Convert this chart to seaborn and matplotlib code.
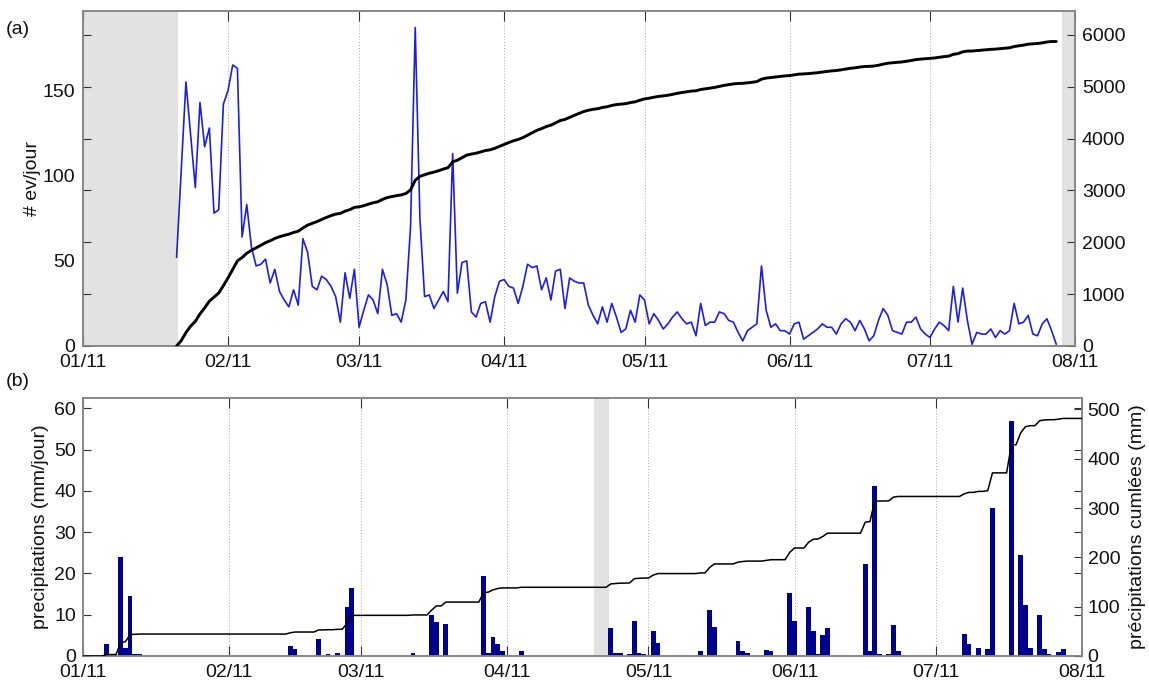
import numpy as np
import pandas as pd
import matplotlib
matplotlib.use("Agg")
import matplotlib.pyplot as plt
import seaborn as sns

# ---------------------------------------------------------------- data
START = pd.Timestamp("2011-01-01")
END = pd.Timestamp("2011-08-01")

# (a) daily number of events, one value per day from the first recording day
ev_first_day = "2011-01-21"
ev_per_day = [
    52, 104, 155, 124, 93, 143, 117, 128, 78, 80, 142, 150, 165, 163, 64, 83,
    58, 47, 48, 51, 37, 45, 32, 27, 23, 33, 24, 63, 55, 35, 33, 41, 39, 35, 29, 14,
    43, 28, 45, 11, 21, 30, 27, 19, 45, 36, 18, 19, 14, 27, 70, 187, 75, 29, 30, 22,
    27, 32, 26, 113, 31, 49, 50, 20, 17, 25, 26, 14, 29, 38, 39, 35, 34, 25, 35, 48,
    46, 47, 33, 40, 27, 44, 45, 22, 40, 38, 37, 37, 24, 18, 13, 23, 14, 25, 17, 8,
    10, 21, 14, 30, 27, 13, 19, 15, 10, 13, 17, 20, 16, 13, 14, 6, 25, 12, 14, 14,
    20, 19, 15, 14, 8, 3, 9, 11, 13, 47, 21, 11, 13, 9, 9, 7, 13, 14, 4, 6,
    8, 10, 13, 11, 11, 7, 13, 16, 14, 9, 15, 10, 3, 6, 15, 22, 18, 9, 8, 7,
    14, 14, 17, 10, 7, 5, 10, 14, 12, 9, 35, 14, 34, 15, 1, 8, 7, 7, 10, 5,
    9, 7, 9, 25, 13, 14, 18, 7, 6, 13, 16, 9, 1,
]

# (b) daily rainfall: day number (days since 2011-01-01) and amount in mm
rain_day = [5, 8, 9, 10, 11, 12, 44, 45, 50, 52, 54, 56, 57, 70, 74, 75, 77,
            85, 86, 87, 88, 89, 93, 112, 113, 114, 116, 117, 118, 119, 121, 122,
            131, 133, 134, 139, 140, 141, 145, 146, 150, 151, 154, 155, 156, 157,
            158, 166, 167, 168, 169, 171, 172, 173, 187, 188, 190, 192, 193, 197,
            199, 200, 201, 203, 204, 205, 207, 208]
rain_mm = [3.0, 24.0, 2.0, 14.5, 0.5, 0.5, 2.5, 1.6, 4.2, 0.5, 0.8, 11.8, 16.5,
           0.8, 10.0, 8.3, 7.8, 19.3, 0.8, 4.6, 2.8, 1.2, 1.3, 6.8, 0.8, 0.8,
           0.5, 8.5, 0.8, 0.5, 6.0, 3.1, 1.3, 11.2, 7.0, 3.7, 1.3, 0.8, 1.5, 1.3,
           15.2, 8.5, 11.9, 6.0, 0.5, 5.0, 6.7, 22.2, 1.2, 41.3, 0.5, 0.5, 7.4,
           1.3, 5.3, 3.0, 2.0, 1.6, 35.9, 57.0, 24.4, 12.3, 2.0, 10.0, 1.6, 0.5,
           1.0, 1.6]

# periods without data
ev_gaps = [("2011-01-01", "2011-01-21 08:00"), ("2011-07-29 04:00", "2011-08-01")]
rain_gaps = [("2011-04-19 12:00", "2011-04-22 16:00")]

# ---------------------------------------------------------------- derived series
def day_of(ts):
    return (pd.Timestamp(ts) - START) / pd.Timedelta(days=1)

n_days = int(day_of(END))
months = pd.date_range(START, END, freq="MS")
month_pos = [day_of(m) for m in months]
month_lab = [m.strftime("%m/%y") for m in months]

ev = np.asarray(ev_per_day, dtype=float)
ev_days = day_of(ev_first_day) + np.arange(len(ev))
# cumulative count from the end of the (partial) first recording day
ev_cum = np.concatenate([[0.0], np.cumsum(ev[1:])])

rain_daily = np.zeros(n_days + 1)
rain_daily[np.asarray(rain_day)] = rain_mm
rain_cum = np.cumsum(rain_daily)
all_days = np.arange(n_days + 1)

# ---------------------------------------------------------------- style
sns.set_theme(style="white")
plt.rcParams["font.family"] = ["Liberation Sans", "DejaVu Sans"]
FS = 14
SPINE = "#858585"
BLUE = "#1e1ee0"
BAR = "#00008e"
SHADE = "#e2e2e2"
TXT = "#111111"

W, H = 1149, 682
fig = plt.figure(figsize=(W / 100, H / 100), dpi=100)
ax_ev = fig.add_axes([83 / W, 1 - 346 / H, (1075 - 83) / W, (346 - 11) / H])
ax_cum = ax_ev.twinx()
ax_rain = fig.add_axes([83 / W, 1 - 656 / H, (1082 - 83) / W, (656 - 398) / H])
ax_rcum = ax_rain.twinx()

for ax in (ax_ev, ax_cum, ax_rain, ax_rcum):
    for sp in ax.spines.values():
        sp.set_color(SPINE)
        sp.set_linewidth(1.1)

for ax in (ax_ev, ax_rain):
    ax.set_xlim(0, n_days)
    ax.set_xticks(month_pos)
    ax.set_xticklabels(month_lab)
    ax.tick_params(axis="x", direction="in", length=7, width=0.8, color="#333333",
                   top=True, bottom=True, labelsize=FS, labelcolor=TXT, pad=6)
    ax.grid(axis="x", linestyle=(0, (1, 2)), color="#a8a8a8", linewidth=0.7)
    ax.grid(axis="y", visible=False)
    ax.set_axisbelow(True)

# ---------------------------------------------------------------- (a) events
for a, b in ev_gaps:
    ax_ev.axvspan(day_of(a), day_of(b), color=SHADE, lw=0, zorder=0)

sns.lineplot(x=ev_days, y=ev, ax=ax_ev, color=BLUE, lw=1.2,
             estimator=None, sort=False, zorder=3)
sns.lineplot(x=ev_days, y=ev_cum, ax=ax_cum, color="black", lw=2.1,
             estimator=None, sort=False, zorder=3)

ax_ev.set_ylim(0, 196.7)
ax_ev.set_yticks([0, 50, 100, 150])
ax_ev.tick_params(axis="y", length=0, labelsize=FS, labelcolor=TXT, pad=6)
ax_ev.set_ylabel("# ev/jour", fontsize=FS, color=TXT, labelpad=1)

ax_cum.set_ylim(0, 6462)
ax_cum.set_yticks(np.arange(0, 6001, 1000))
ax_cum.tick_params(axis="y", direction="in", length=6, width=0.8, color="#333333",
                   left=True, right=True, labelleft=False, labelright=True,
                   labelsize=FS, labelcolor=TXT, pad=5)
ax_cum.set_ylabel("")

# ---------------------------------------------------------------- (b) rainfall
for a, b in rain_gaps:
    ax_rain.axvspan(day_of(a), day_of(b), color=SHADE, lw=0, zorder=0)

ax_rain.bar(rain_day, rain_mm, width=1.0, color=BAR, linewidth=0, zorder=2)
sns.lineplot(x=all_days, y=rain_cum, ax=ax_rcum, color="black", lw=1.1,
             estimator=None, sort=False, zorder=3)

ax_rain.set_ylim(0, 62.5)
ax_rain.set_yticks(np.arange(0, 61, 10))
ax_rain.tick_params(axis="y", direction="in", length=6, width=0.8, color="#333333",
                    left=True, right=True, labelleft=True, labelright=False,
                    labelsize=FS, labelcolor=TXT, pad=5)
ax_rain.set_ylabel("precipitations (mm/jour)", fontsize=FS, color=TXT, labelpad=4)

ax_rcum.set_ylim(0, 523)
ax_rcum.set_yticks(np.arange(0, 501, 100))
ax_rcum.tick_params(axis="y", direction="in", length=6, width=0.8, color="#333333",
                    left=False, right=True, labelright=True, labelsize=FS,
                    labelcolor=TXT, pad=4)
ax_rcum.set_ylabel("précipitations cumlées (mm)", fontsize=FS, color=TXT, labelpad=6)

fig.text(6 / W, 1 - 30 / H, "(a)", fontsize=FS, color=TXT, ha="left", va="center")
fig.text(6 / W, 1 - 382 / H, "(b)", fontsize=FS, color=TXT, ha="left", va="center")

fig.savefig("out.png", dpi=100, facecolor="white")
